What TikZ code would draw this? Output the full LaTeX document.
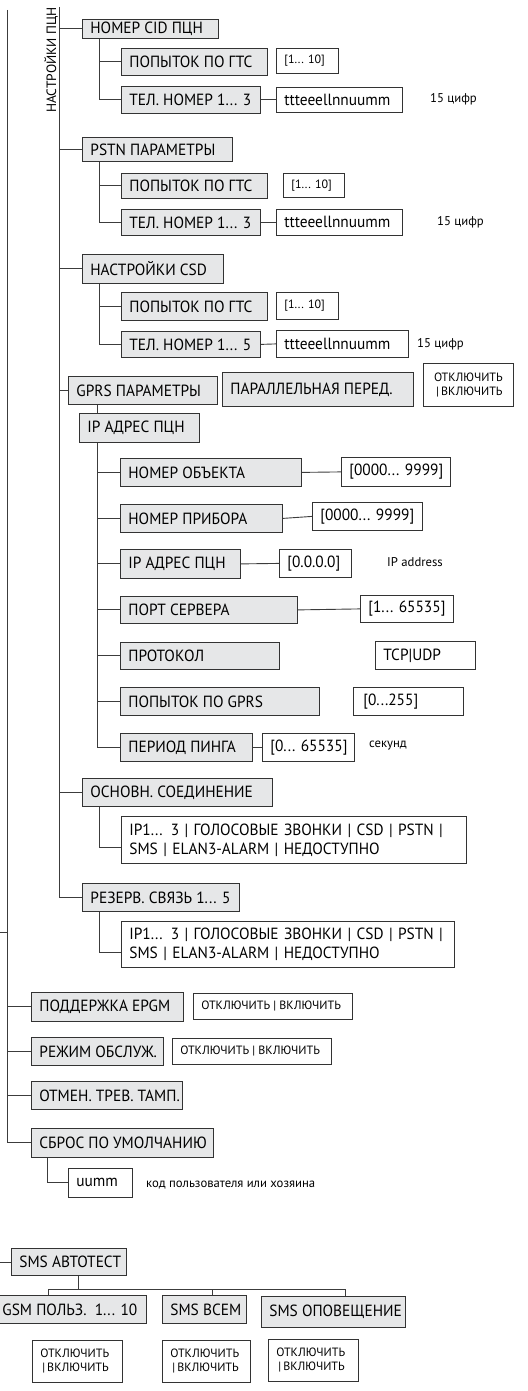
\documentclass[tikz,border=0pt]{standalone}
\usepackage{fontspec}
\setmainfont{PT Sans}
\newfontfamily\mfam{PT Sans}[FakeStretch=0.95]
\definecolor{bc}{HTML}{333333}
\definecolor{lc}{HTML}{3C3C3C}
\definecolor{gf}{HTML}{E6E7E8}
\newcommand\mainf{\mfam\fontsize{16.2}{19}\selectfont}
\newcommand\smf{\fontsize{12}{14}\selectfont}
\newcommand\tinyf{\fontsize{12.7}{14}\selectfont}
\tikzset{
  W/.code={\pgfmathsetlengthmacro\tw{#1pt-16pt}\edef\tmpw{\noexpand\pgfkeysalso{/tikz/minimum width=#1pt,/tikz/execute at begin node={\noexpand\hbox to \tw\noexpand\bgroup},/tikz/execute at end node={\noexpand\hss\noexpand\egroup}}}\tmpw},
  W2/.code={\pgfmathsetlengthmacro\tw{#1pt-16pt}\edef\tmpw{\noexpand\pgfkeysalso{/tikz/text width=\tw,/tikz/minimum width=#1pt}}\tmpw},
  H/.style={minimum height=#1pt},
  gb/.style={draw=bc, fill=gf, line width=0.8pt, anchor=north west, inner ysep=0pt, inner xsep=8pt, font=\mainf, align=left},
  wb/.style={draw=bc, fill=white, line width=0.8pt, anchor=north west, inner ysep=0pt, inner xsep=8pt, font=\mainf, align=left},
  sw/.style={wb, font=\smf},
  ln/.style={draw=lc, line width=0.9pt},
  note/.style={font=\tinyf, inner sep=0pt, anchor=west},
}
\begin{document}
\begin{tikzpicture}[x=1pt,y=-1pt]
\useasboundingbox (0,0) rectangle (527,1391);
% trunks
\coordinate (T1a) at (7.5,10);
\coordinate (T2a) at (59.5,7);
\node[rotate=90, font=\fontsize{13.5}{15}\selectfont, inner sep=0pt] (lbl) at (51,60) {НАСТРОЙКИ ПЦН};

% group CID
\node[gb, W=136, H=19] (cid) at (82,19) {НОМЕР CID ПЦН};
\node[gb, W=146, H=27] (pop1) at (121,48) {ПОПЫТОК ПО ГТС};
\node[sw, W=62, H=25] (r1) at (276,48) {[1... 10]};
\node[gb, W=139, H=27] (tel1) at (121,86) {ТЕЛ. НОМЕР 1... 3};
\node[wb, W=126, H=25] (t1) at (276,87) {ttteeellnnuumm};
\node[note] (c1) at (430,99) {15 цифр};

% group PSTN
\node[gb, W=150, H=24] (pstn) at (82,137) {PSTN ПАРАМЕТРЫ};
\node[gb, W=146, H=25] (pop2) at (121,173) {ПОПЫТОК ПО ГТС};
\node[sw, W=61, H=24] (r2) at (283,173) {[1... 10]};
\node[gb, W=139, H=26] (tel2) at (121,209) {ТЕЛ. НОМЕР 1... 3};
\node[wb, W=126, H=26] (t2) at (276,209) {ttteeellnnuumm};
\node[note] (c2) at (437,222) {15 цифр};

% group CSD
\node[gb, W=141, H=29] (csd) at (82,254) {НАСТРОЙКИ CSD};
\node[gb, W=146, H=28] (pop3) at (121,292) {ПОПЫТОК ПО ГТС};
\node[sw, W=62, H=27] (r3) at (276,292) {[1... 10]};
\node[gb, W=139, H=26] (tel3) at (121,331) {ТЕЛ. НОМЕР 1... 5};
\node[wb, W=132, H=27] (t3) at (276,330) {ttteeellnnuumm};
\node[note] (c3) at (417,344) {15 цифр};

% GPRS
\node[gb, W=149, H=28] (gprs) at (68,376) {GPRS ПАРАМЕТРЫ};
\node[gb, W=191, H=34] (par) at (222,372) {ПАРАЛЛЕЛЬНАЯ ПЕРЕД.};
\node[sw, W2=90, H=43, align=center] (parv) at (423,363) {ОТКЛЮЧИТЬ\\\,|\,ВКЛЮЧИТЬ};
\node[gb, W=120, H=29] (ipc) at (79,413) {IP АДРЕС ПЦН};

\node[gb, W=181, H=28] (obj) at (120,458) {НОМЕР ОБЪЕКТА};
\node[wb, W=109, H=29] (objv) at (341,457) {[0000... 9999]};
\node[gb, W=162, H=28] (dev) at (120,504) {НОМЕР ПРИБОРА};
\node[wb, W=110, H=28] (devv) at (312,502) {[0000... 9999]};
\node[gb, W=120, H=29] (ip) at (120,549) {IP АДРЕС ПЦН};
\node[wb, W=72, H=28] (ipv) at (279,549) {[0.0.0.0]};
\node[note] (ipn) at (387,562) {IP address};
\node[gb, W=177, H=27] (port) at (120,596) {ПОРТ СЕРВЕРА};
\node[wb, W=93, H=27] (portv) at (360,595) {[1... 65535]};
\node[gb, W=159, H=27] (prot) at (120,642) {ПРОТОКОЛ};
\node[wb, W=100, H=28] (protv) at (375,641) {TCP|UDP};
\node[gb, W=199, H=28] (gpr) at (120,687) {ПОПЫТОК ПО GPRS};
\node[wb, W=110, H=28] (gprv) at (353,687) {\hspace{2pt}[0...255]};
\node[gb, W=132, H=28] (ping) at (120,733) {ПЕРИОД ПИНГА};
\node[wb, W=92, H=28] (pingv) at (262,733) {[0... 65535]};
\node[note] (pingn) at (369,746) {секунд};

\node[gb, W=190, H=28] (osn) at (82,778) {ОСНОВН. СОЕДИНЕНИЕ};
\node[wb, W2=345, H=47] (osnv) at (121,816) {IP1... 3 | ГОЛОСОВЫЕ ЗВОНКИ | CSD | PSTN |\\SMS | ELAN3-ALARM | НЕДОСТУПНО};
\node[gb, W=157, H=28] (rez) at (82,883) {РЕЗЕРВ. СВЯЗЬ 1... 5};
\node[wb, W2=333, H=46] (rezv) at (121,921) {\mbox{IP1... 3 | ГОЛОСОВЫЕ ЗВОНКИ | CSD | PSTN |}\\SMS | ELAN3-ALARM | НЕДОСТУПНО};

% main level
\node[gb, W=152, H=29] (epgm) at (31,992) {ПОДДЕРЖКА EPGM};
\node[sw, W=159, H=26] (epgmv) at (193,993) {ОТКЛЮЧИТЬ | ВКЛЮЧИТЬ};
\node[gb, W=132, H=28] (rej) at (31,1037) {РЕЖИМ ОБСЛУЖ.};
\node[sw, W=159, H=26] (rejv) at (172,1038) {ОТКЛЮЧИТЬ | ВКЛЮЧИТЬ};
\node[gb, W=151, H=28] (otm) at (31,1081) {ОТМЕН. ТРЕВ. ТАМП.};
\node[gb, W=182, H=29] (sbr) at (31,1128) {СБРОС ПО УМОЛЧАНИЮ};
\node[wb, W=64, H=29] (uumm) at (68,1168) {uumm};
\node[note] (code) at (146,1185) {код пользователя или хозяина};

% SMS
\node[gb, W=115, H=27] (sms) at (11,1248) {SMS АВТОТЕСТ};
\node[gb, W=152, H=28] (gsm) at (-6,1295) {GSM ПОЛЬЗ.\ \ 1... 10};
\node[gb, W=84, H=28] (smsall) at (162,1295) {SMS ВСЕМ};
\node[gb, W=144, H=31] (smsn) at (261,1296) {SMS ОПОВЕЩЕНИЕ};
\node[sw, W2=90, H=42] (v1) at (32,1340) {ОТКЛЮЧИТЬ\\\,|\,ВКЛЮЧИТЬ};
\node[sw, W2=88, H=42] (v2) at (162,1340) {ОТКЛЮЧИТЬ\\\,|\,ВКЛЮЧИТЬ};
\node[sw, W2=90, H=42] (v3) at (268,1339) {ОТКЛЮЧИТЬ\\\,|\,ВКЛЮЧИТЬ};

% ---- connectors
\draw[ln] (T1a) |- (sbr.west);
\coordinate (s0) at (0,932);
\draw[ln] (s0) -- (s0 -| T1a);
\draw[ln] (epgm.west) -- (epgm.west -| T1a);
\draw[ln] (rej.west) -- (rej.west -| T1a);
\draw[ln] (otm.west) -- (otm.west -| T1a);

\draw[ln] (T2a) |- (rez.west);
\draw[ln] (cid.west) -- (cid.west -| T2a);
\draw[ln] (pstn.west) -- (pstn.west -| T2a);
\draw[ln] (csd.west) -- (csd.west -| T2a);
\draw[ln] (gprs.west) -- (gprs.west -| T2a);
\draw[ln] (osn.west) -- (osn.west -| T2a);

\draw[ln] ([xshift=17pt]cid.south west) |- (tel1.west);
\draw[ln] (pop1.west) -- ++(-22,0);
\draw[ln] (tel1.east) -- (t1.west);
\draw[ln] ([xshift=17pt]pstn.south west) |- (tel2.west);
\draw[ln] (pop2.west) -- ++(-22,0);
\draw[ln] (tel2.east) -- (t2.west);
\draw[ln] ([xshift=17pt]csd.south west) |- (tel3.west);
\draw[ln] (pop3.west) -- ++(-22,0);
\draw[ln] (tel3.east) -- (t3.west);

\draw[ln] ([xshift=29pt]gprs.south west) -- ([xshift=18pt]ipc.north west);
\draw[ln] ([xshift=18pt]ipc.south west) |- (ping.west);
\foreach \n in {obj,dev,ip,port,prot,gpr} \draw[ln] (\n.west) -- ++(-23,0);
\draw[ln] (obj.east) -- (objv.west);
\draw[ln] (dev.east) -- (devv.west);
\draw[ln] (ip.east) -- (ipv.west);
\draw[ln] (port.east) -- (portv.west);
\draw[ln] (ping.east) -- (pingv.west);

\draw[ln] ([xshift=17pt]osn.south west) |- ([yshift=-8pt]osnv.west);
\draw[ln] ([xshift=17pt]rez.south west) |- ([yshift=-8pt]rezv.west);
\draw[ln] ([xshift=16pt]sbr.south west) |- (uumm.west);

\coordinate (s1) at (0,1262);
\draw[ln] (s1) -- (s1 -| sms.west);
\coordinate (busL) at (48,1289);
\coordinate (busM) at (212,1289);
\coordinate (busR) at (345,1289);
\draw[ln] ([xshift=67pt]sms.south west) -- ([xshift=67pt]sms.south west |- busL);
\draw[ln] (busL) -- (busR);
\draw[ln] (busL) -- (busL |- gsm.north);
\draw[ln] (busM) -- (busM |- smsall.north);
\draw[ln] (busR) -- (busR |- smsn.north);
\end{tikzpicture}
\end{document}
